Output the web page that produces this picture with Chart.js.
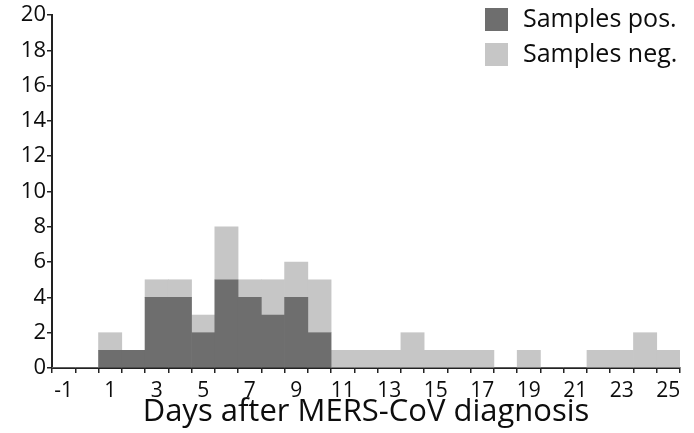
<!DOCTYPE html>
<html>
<head>
<meta charset="utf-8">
<script src="https://cdn.jsdelivr.net/npm/chart.js@4"></script>
<style>
  html, body { margin: 0; padding: 0; background: #fff; }
  canvas { display: block; }
</style>
</head>
<body>
<canvas id="chart" width="694" height="433"></canvas>
<script>
// Days relative to diagnosis, one bar per day
const days = [-1, 0, 1, 2, 3, 4, 5, 6, 7, 8, 9, 10, 11, 12, 13, 14, 15, 16, 17, 18, 19, 20, 21, 22, 23, 24, 25];
// Number of positive samples per day
const samplesPos = [0, 0, 1, 1, 4, 4, 2, 5, 4, 3, 4, 2, 0, 0, 0, 0, 0, 0, 0, 0, 0, 0, 0, 0, 0, 0, 0];
// Number of negative samples per day (stacked above the positives)
const samplesNeg = [0, 0, 1, 0, 1, 1, 1, 3, 1, 2, 2, 3, 1, 1, 1, 2, 1, 1, 1, 0, 1, 0, 0, 1, 1, 2, 1];
// Y axis range and tick spacing
const yMin = 0, yMax = 20, yStep = 1;
const seriesNames = ['Samples pos.', 'Samples neg.'];
const axisTitle = 'Days after MERS-CoV diagnosis';

const FONT = "'Open Sans', 'DejaVu Sans', sans-serif";
const INK = '#0d0d0d';

// Boxed legend in the upper right corner
const cornerLegend = {
  id: 'cornerLegend',
  afterDraw(chart) {
    const ctx = chart.ctx;
    ctx.save();
    ctx.font = '25px ' + FONT;
    ctx.textBaseline = 'middle';
    ctx.textAlign = 'left';
    chart.data.datasets.forEach((ds, i) => {
      const y = 8 + i * 35;
      ctx.fillStyle = ds.backgroundColor;
      ctx.fillRect(485, y, 23, 23);
      ctx.fillStyle = INK;
      ctx.fillText(ds.label, 523, y + 12);
    });
    ctx.restore();
  }
};

new Chart(document.getElementById('chart'), {
  type: 'bar',
  data: {
    labels: days.map(String),
    datasets: [
      { label: seriesNames[0], data: samplesPos, backgroundColor: '#6e6e6e' },
      { label: seriesNames[1], data: samplesNeg, backgroundColor: '#c6c6c6' }
    ]
  },
  options: {
    responsive: false,
    animation: false,
    events: [],
    layout: { padding: { top: 15, right: 14, bottom: 0, left: 0 } },
    datasets: {
      bar: { categoryPercentage: 1, barPercentage: 1, borderWidth: 0, borderSkipped: false }
    },
    plugins: {
      legend: { display: false },
      tooltip: { enabled: false },
      title: { display: false }
    },
    scales: {
      x: {
        type: 'category',
        stacked: true,
        offset: true,
        title: {
          display: true,
          text: axisTitle,
          color: INK,
          font: { family: FONT, size: 31, weight: 'normal', lineHeight: 1.0 },
          padding: { top: 0, bottom: 5 }
        },
        grid: {
          offset: true,
          drawOnChartArea: false,
          drawTicks: true,
          tickLength: 5,
          color: '#222',
          lineWidth: 1.5
        },
        border: { display: true, color: '#222', width: 2 },
        ticks: {
          autoSkip: false,
          maxRotation: 0,
          minRotation: 0,
          padding: 5,
          color: INK,
          font: { family: FONT, size: 21 },
          callback(value, index) {
            const d = days[index];
            return Math.abs(d) % 2 === 1 ? String(d) : '';
          }
        },
        afterFit(scale) { scale.height = 65; }
      },
      y: {
        stacked: true,
        min: yMin,
        max: yMax,
        grid: {
          drawOnChartArea: false,
          drawTicks: true,
          tickLength: 5,
          color: '#222',
          lineWidth: 1.5
        },
        border: { display: true, color: '#222', width: 2 },
        ticks: {
          stepSize: yStep,
          padding: 1,
          color: INK,
          font: { family: FONT, size: 22 },
          callback(value) { return value % 2 === 0 ? String(value) : ''; }
        },
        afterFit(scale) { scale.width = 52; }
      }
    }
  },
  plugins: [cornerLegend]
});
</script>
</body>
</html>
